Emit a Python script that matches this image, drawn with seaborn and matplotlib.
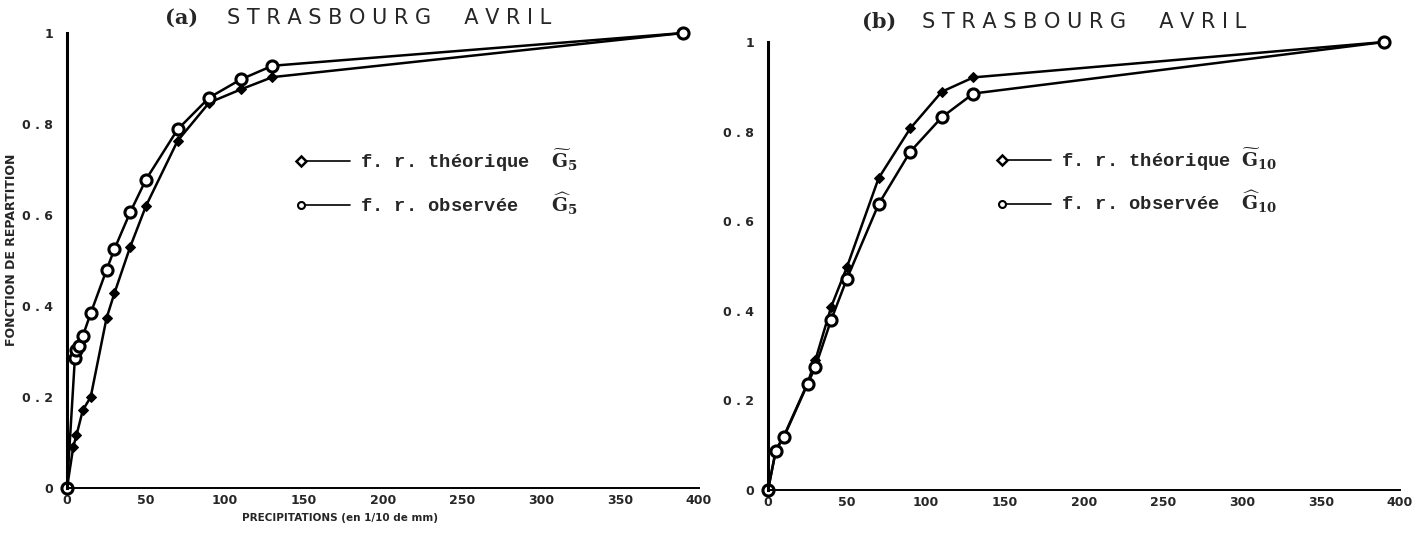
import numpy as np
import pandas as pd
import matplotlib
matplotlib.use("Agg")
import matplotlib.pyplot as plt
from matplotlib.lines import Line2D
from matplotlib.legend_handler import HandlerLine2D
import seaborn as sns

# panel (a) : G5
a_theo_x = [0, 4, 6, 10, 15, 25, 30, 40, 50, 70, 90, 110, 130, 390]
a_theo_y = [0, 0.091, 0.116, 0.171, 0.200, 0.373, 0.428, 0.530, 0.620, 0.763, 0.847, 0.876, 0.903, 1.0]
a_obs_x = [0, 5, 6, 7.5, 10, 15, 25, 30, 40, 50, 70, 90, 110, 130, 390]
a_obs_y = [0, 0.286, 0.303, 0.312, 0.334, 0.384, 0.479, 0.525, 0.606, 0.678, 0.788, 0.858, 0.898, 0.928, 1.0]

# panel (b) : G10
b_x = [0, 5, 10, 25, 30, 40, 50, 70, 90, 110, 130, 390]
b_theo_y = [0, 0.090, 0.120, 0.238, 0.290, 0.409, 0.498, 0.696, 0.807, 0.889, 0.921, 1.0]
b_obs_y = [0, 0.088, 0.118, 0.236, 0.275, 0.380, 0.472, 0.638, 0.755, 0.832, 0.885, 1.0]

x_ticks = [0, 50, 100, 150, 200, 250, 300, 350, 400]
x_tick_labels = ["0", "50", "100", "150", "200", "250", "300", "350", "400"]
y_ticks = [0, 0.2, 0.4, 0.6, 0.8, 1.0]
y_tick_labels = ["0", "0 . 2", "0 . 4", "0 . 6", "0 . 8", "1"]

titles = ["(a)", "(b)"]
title_word = "S T R A S B O U R G     A V R I L"
leg_theo = [r"f. r. théorique  $\widetilde{\mathbf{G}}_{\mathbf{5}}$",
            r"f. r. théorique $\widetilde{\mathbf{G}}_{\mathbf{10}}$"]
leg_obs = [r"f. r. observée   $\widehat{\mathbf{G}}_{\mathbf{5}}$",
           r"f. r. observée  $\widehat{\mathbf{G}}_{\mathbf{10}}$"]


class LeftMarker(HandlerLine2D):
    # marker only at the left end of the legend line
    def create_artists(self, *args, **kwargs):
        artists = super().create_artists(*args, **kwargs)
        for a in artists:
            if isinstance(a, Line2D):
                a.set_markevery([0])
        return artists


sns.set_style("white")
plt.rcParams["font.family"] = ["DejaVu Sans"]
plt.rcParams["mathtext.fontset"] = "dejavuserif"

fig = plt.figure(figsize=(14.27, 5.34), dpi=100)
ax_a = fig.add_axes([67 / 1427, 1 - 488 / 534, 632 / 1427, 455 / 534])
ax_b = fig.add_axes([768 / 1427, 1 - 490 / 534, 632 / 1427, 448 / 534])

panels = [
    (ax_a, a_theo_x, a_theo_y, a_obs_x, a_obs_y),
    (ax_b, b_x, b_theo_y, b_x, b_obs_y),
]

for i, (ax, tx, ty, ox, oy) in enumerate(panels):
    df_t = pd.DataFrame({"x": tx, "y": ty})
    df_o = pd.DataFrame({"x": ox, "y": oy})
    sns.lineplot(data=df_t, x="x", y="y", ax=ax, color="black", lw=1.8,
                 marker="D", markersize=5.5, markerfacecolor="black",
                 markeredgecolor="black", estimator=None, sort=False, clip_on=False)
    sns.lineplot(data=df_o, x="x", y="y", ax=ax, color="black", lw=1.8,
                 marker="o", markersize=8, markerfacecolor="white",
                 markeredgecolor="black", markeredgewidth=2.2,
                 estimator=None, sort=False, clip_on=False)

    ax.set_xlim(0, 400)
    ax.set_ylim(0, 1)
    ax.set_xticks(x_ticks)
    ax.set_xticklabels(x_tick_labels, fontsize=9, fontweight="bold")
    ax.set_yticks(y_ticks)
    ax.set_yticklabels(y_tick_labels, fontsize=9, fontweight="bold")
    ax.tick_params(axis="both", direction="in", length=4, width=1.2, color="black")
    ax.tick_params(axis="y", pad=10)
    ax.tick_params(axis="x", pad=4)
    ax.set_xlabel("")
    ax.set_ylabel("")
    for side in ["top", "right"]:
        ax.spines[side].set_visible(False)
    ax.spines["left"].set_linewidth(2.2)
    ax.spines["bottom"].set_linewidth(1.4)
    ax.spines["left"].set_color("black")
    ax.spines["bottom"].set_color("black")

    handles = [
        Line2D([], [], color="black", lw=1.2, marker="D", markersize=5,
               markerfacecolor="white", markeredgewidth=1.8),
        Line2D([], [], color="black", lw=1.2, marker="o", markersize=5,
               markerfacecolor="white", markeredgewidth=1.5),
    ]
    ax.legend(handles, [leg_theo[i], leg_obs[i]], loc="upper left",
              bbox_to_anchor=(0.335, 0.785 if i == 0 else 0.805), frameon=False,
              numpoints=2, handlelength=3.2, handletextpad=0.25, labelspacing=0.85,
              handler_map={Line2D: LeftMarker()},
              prop={"family": "Liberation Mono", "weight": "bold", "size": 13.5})

fig.text(165 / 1427, 1 - 18 / 534, titles[0], fontsize=15, fontweight="bold",
         family="DejaVu Serif", va="center", ha="left")
fig.text(227 / 1427, 1 - 18 / 534, title_word, fontsize=15, va="center", ha="left")
fig.text(862 / 1427, 1 - 22 / 534, titles[1], fontsize=15, fontweight="bold",
         family="DejaVu Serif", va="center", ha="left")
fig.text(922 / 1427, 1 - 22 / 534, title_word, fontsize=15, va="center", ha="left")

fig.text(12 / 1427, 1 - 250 / 534, "FONCTION DE REPARTITION", rotation=90,
         fontsize=9, fontweight="bold", va="center", ha="center")
fig.text(340 / 1427, 1 - 518 / 534, "PRECIPITATIONS (en 1/10 de mm)",
         fontsize=7.5, fontweight="bold", va="center", ha="center")

fig.savefig("out.png", dpi=100)
